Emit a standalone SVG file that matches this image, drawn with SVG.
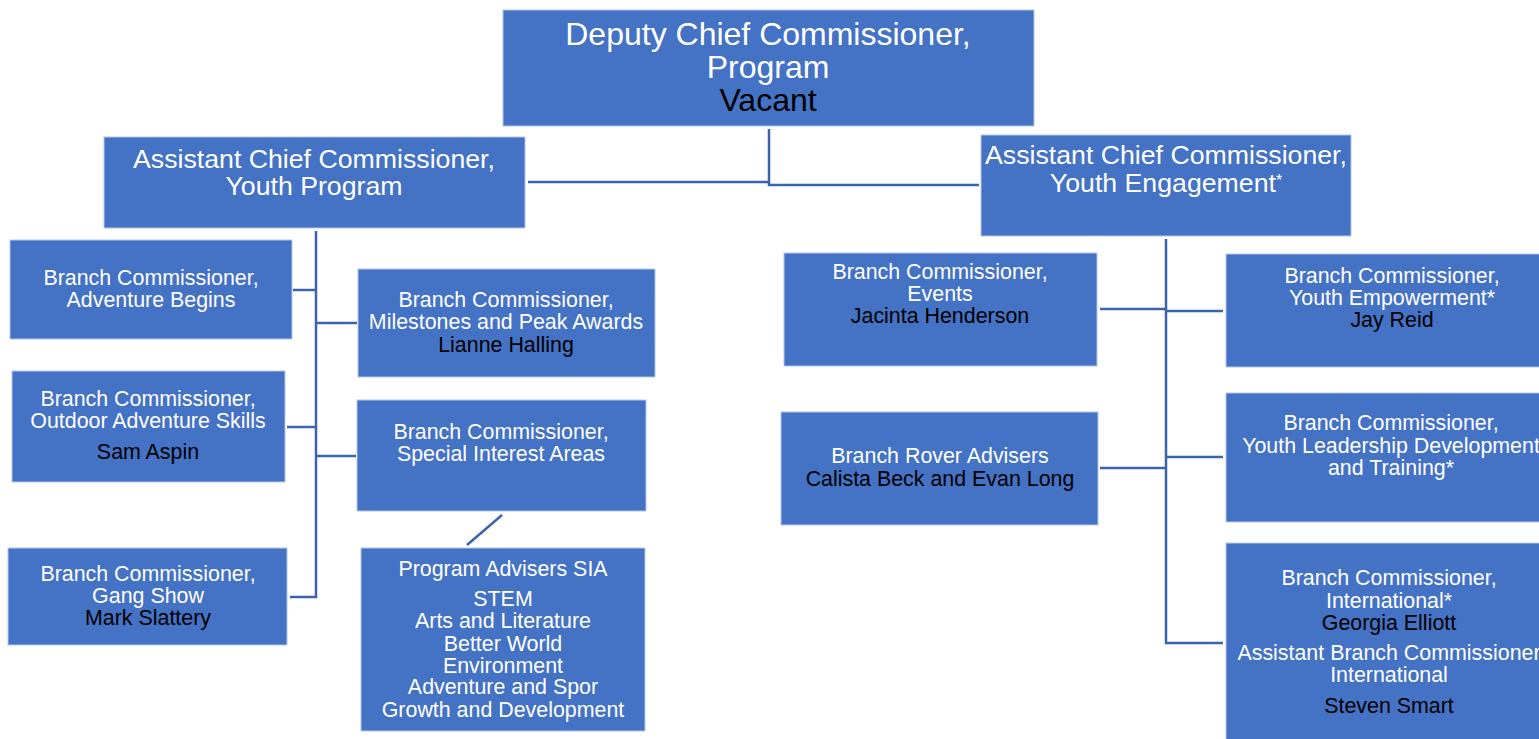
<svg xmlns="http://www.w3.org/2000/svg" width="1539" height="739" viewBox="0 0 1539 739">
<style>
.box{fill:#4472C4;stroke:#B4C7E7;stroke-width:1}
text{font-family:"Liberation Sans",Arial,sans-serif;text-anchor:middle;fill:#FFFFFF}
.t32{font-size:32px}
.t26{font-size:26.7px}
.t21{font-size:21.4px}
.k{fill:#000000}
.con{fill:none;stroke:#3C64AC;stroke-width:2.5}
</style>
<rect width="1539" height="739" fill="#FFFFFF"/>
<g id="connectors">
<polyline class="con" points="528,182 769,182"/>
<polyline class="con" points="769,129 769,185 979,185"/>
<polyline class="con" points="316,231 316,597 290,597"/>
<line class="con" x1="293" y1="290" x2="316" y2="290"/>
<line class="con" x1="316" y1="323" x2="357" y2="323"/>
<line class="con" x1="287" y1="427" x2="316" y2="427"/>
<line class="con" x1="316" y1="456" x2="356" y2="456"/>
<line class="con" x1="502" y1="515" x2="467" y2="545"/>
<polyline class="con" points="1166,239 1166,643 1223,643"/>
<line class="con" x1="1100" y1="309" x2="1166" y2="309"/>
<line class="con" x1="1166" y1="311" x2="1223" y2="311"/>
<line class="con" x1="1100" y1="468" x2="1166" y2="468"/>
<line class="con" x1="1166" y1="457" x2="1223" y2="457"/>
</g>
<g id="dcc">
<rect class="box" x="503" y="10" width="531" height="116"/>
<text class="t32" x="768" y="45">Deputy Chief Commissioner,</text>
<text class="t32" x="768" y="78">Program</text>
<text class="t32 k" x="768" y="111">Vacant</text>
</g>
<g id="acc-youth-program">
<rect class="box" x="104" y="137" width="421" height="91"/>
<text class="t26" x="314" y="168">Assistant Chief Commissioner,</text>
<text class="t26" x="314" y="195">Youth Program</text>
</g>
<g id="acc-youth-engagement">
<rect class="box" x="981" y="135" width="370" height="101"/>
<text class="t26" x="1166" y="164">Assistant Chief Commissioner,</text>
<text class="t26" x="1166" y="192">Youth Engagement<tspan font-size="16" dy="-6">*</tspan></text>
</g>
<g id="adventure-begins">
<rect class="box" x="10" y="240" width="282" height="99"/>
<text class="t21" x="151" y="285">Branch Commissioner,</text>
<text class="t21" x="151" y="307">Adventure Begins</text>
</g>
<g id="milestones">
<rect class="box" x="358" y="269" width="297" height="108"/>
<text class="t21" x="506" y="307">Branch Commissioner,</text>
<text class="t21" x="506" y="329">Milestones and Peak Awards</text>
<text class="t21 k" x="506" y="352">Lianne Halling</text>
</g>
<g id="outdoor-adventure-skills">
<rect class="box" x="12" y="371" width="273" height="111"/>
<text class="t21" x="148" y="406">Branch Commissioner,</text>
<text class="t21" x="148" y="428">Outdoor Adventure Skills</text>
<text class="t21 k" x="148" y="459">Sam Aspin</text>
</g>
<g id="special-interest-areas">
<rect class="box" x="357" y="400" width="289" height="111"/>
<text class="t21" x="501" y="439">Branch Commissioner,</text>
<text class="t21" x="501" y="461">Special Interest Areas</text>
</g>
<g id="gang-show">
<rect class="box" x="8" y="548" width="279" height="97"/>
<text class="t21" x="148" y="581">Branch Commissioner,</text>
<text class="t21" x="148" y="603">Gang Show</text>
<text class="t21 k" x="148" y="625">Mark Slattery</text>
</g>
<g id="program-advisers-sia">
<rect class="box" x="361" y="548" width="284" height="183"/>
<text class="t21" x="503" y="576">Program Advisers SIA</text>
<text class="t21" x="503" y="606">STEM</text>
<text class="t21" x="503" y="628">Arts and Literature</text>
<text class="t21" x="503" y="651">Better World</text>
<text class="t21" x="503" y="673">Environment</text>
<text class="t21" x="503" y="694">Adventure and Spor</text>
<text class="t21" x="503" y="717">Growth and Development</text>
</g>
<g id="events">
<rect class="box" x="784" y="253" width="313" height="113"/>
<text class="t21" x="940" y="279">Branch Commissioner,</text>
<text class="t21" x="940" y="301">Events</text>
<text class="t21 k" x="940" y="323">Jacinta Henderson</text>
</g>
<g id="rover-advisers">
<rect class="box" x="781" y="412" width="317" height="113"/>
<text class="t21" x="940" y="463">Branch Rover Advisers</text>
<text class="t21 k" x="940" y="486">Calista Beck and Evan Long</text>
</g>
<g id="youth-empowerment">
<rect class="box" x="1226" y="254" width="320" height="113"/>
<text class="t21" x="1392" y="283">Branch Commissioner,</text>
<text class="t21" x="1392" y="305">Youth Empowerment*</text>
<text class="t21 k" x="1392" y="327">Jay Reid</text>
</g>
<g id="youth-leadership">
<rect class="box" x="1226" y="393" width="320" height="129"/>
<text class="t21" x="1391" y="430">Branch Commissioner,</text>
<text class="t21" x="1391" y="453">Youth Leadership Development</text>
<text class="t21" x="1391" y="475">and Training*</text>
</g>
<g id="international">
<rect class="box" x="1226" y="543" width="320" height="205"/>
<text class="t21" x="1389" y="585">Branch Commissioner,</text>
<text class="t21" x="1389" y="608">International*</text>
<text class="t21 k" x="1389" y="630">Georgia Elliott</text>
<text class="t21" x="1389" y="660">Assistant Branch Commissioner</text>
<text class="t21" x="1389" y="682">International</text>
<text class="t21 k" x="1389" y="713">Steven Smart</text>
</g>
</svg>
